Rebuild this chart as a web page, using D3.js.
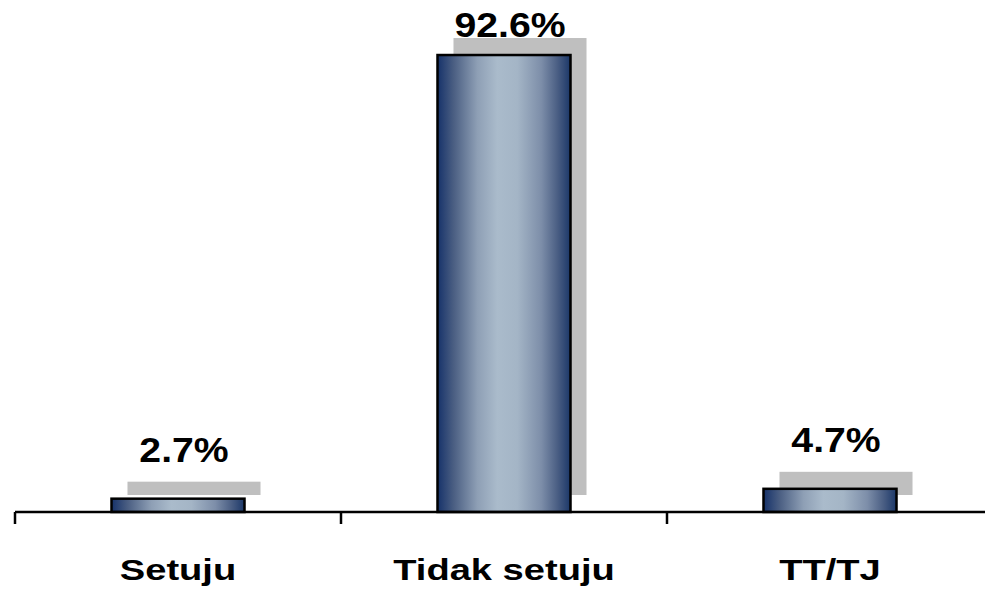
<!DOCTYPE html>
<html>
<head>
<meta charset="utf-8">
<script src="https://cdn.jsdelivr.net/npm/d3@7/dist/d3.min.js"></script>
<style>
  html, body { margin: 0; padding: 0; background: #ffffff; }
  svg { display: block; }
</style>
</head>
<body>
<svg id="chart" width="985" height="596"></svg>
<script>
// Survey response shares (%)
const categories = ["Setuju", "Tidak setuju", "TT/TJ"];
const values = [2.7, 92.6, 4.7];
const valueLabels = ["2.7%", "92.6%", "4.7%"];

const W = 985, H = 596;
const svg = d3.select("#chart");

const x = d3.scaleBand()
  .domain(categories)
  .range([15, 993])
  .paddingInner(0.592)
  .paddingOuter(0.296);

const y = d3.scaleLinear().domain([0, 100]).range([512, 18.5]);

// bar gradient: dark navy edges, pale steel-blue centre
const defs = svg.append("defs");
const grad = defs.append("linearGradient")
  .attr("id", "barGrad").attr("x1", "0%").attr("x2", "100%").attr("y1", "0%").attr("y2", "0%");
[
  [0, "#16326a"], [0.12, "#4a5e82"], [0.3, "#8e9fb5"], [0.45, "#aabbcb"],
  [0.6, "#a4b5c6"], [0.78, "#7d8ea9"], [0.9, "#4b5f84"], [1, "#1b3768"]
].forEach(([o, c]) => grad.append("stop").attr("offset", o).attr("stop-color", c));

const data = categories.map((c, i) => ({ c, v: values[i], label: valueLabels[i] }));
const shadowDx = 16, shadowDy = -17;

// drop shadows
svg.append("g").selectAll("rect").data(data).join("rect")
  .attr("x", d => x(d.c) + shadowDx)
  .attr("y", d => y(d.v) + shadowDy)
  .attr("width", x.bandwidth())
  .attr("height", d => y(0) - y(d.v))
  .attr("fill", "#bfbfbf");

// bars
svg.append("g").selectAll("rect").data(data).join("rect")
  .attr("x", d => x(d.c))
  .attr("y", d => y(d.v))
  .attr("width", x.bandwidth())
  .attr("height", d => y(0) - y(d.v))
  .attr("fill", "url(#barGrad)")
  .attr("stroke", "#000")
  .attr("stroke-width", 2.5);

// axis line and tick marks at category boundaries
const axisG = svg.append("g");
axisG.append("line")
  .attr("x1", x.range()[0]).attr("x2", W + 5)
  .attr("y1", y(0)).attr("y2", y(0))
  .attr("stroke", "#000").attr("stroke-width", 2.5);
const boundaries = d3.range(categories.length).map(i => x.range()[0] + i * x.step());
axisG.selectAll("line.tick").data(boundaries).join("line")
  .attr("class", "tick")
  .attr("x1", d => d).attr("x2", d => d)
  .attr("y1", y(0)).attr("y2", y(0) + 12)
  .attr("stroke", "#000").attr("stroke-width", 2.5);

// category labels (wide bold face)
svg.append("g").selectAll("text").data(data).join("text")
  .attr("transform", d => `translate(${x(d.c) + x.bandwidth() / 2},580) scale(1.27,1)`)
  .attr("text-anchor", "middle")
  .attr("font-family", "Liberation Sans, Arial, sans-serif")
  .attr("font-weight", "bold")
  .attr("font-size", 30)
  .attr("fill", "#000")
  .text(d => d.c);

// value labels
svg.append("g").selectAll("text").data(data).join("text")
  .attr("transform", d => `translate(${x(d.c) + x.bandwidth() / 2 + 6},${Math.max(y(d.v) - 37, 37)}) scale(1.12,1)`)
  .attr("text-anchor", "middle")
  .attr("font-family", "Liberation Sans, Arial, sans-serif")
  .attr("font-weight", "bold")
  .attr("font-size", 35)
  .attr("fill", "#000")
  .text(d => d.label);
</script>
</body>
</html>
